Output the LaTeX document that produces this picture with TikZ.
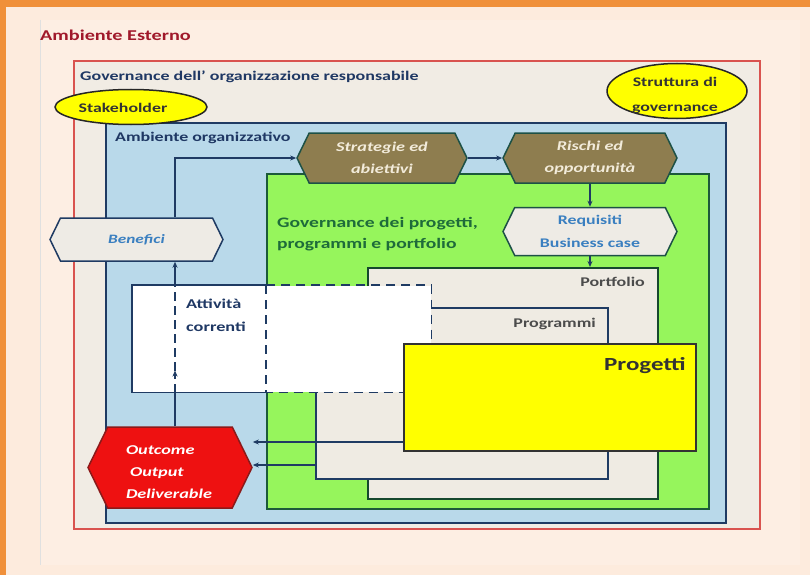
\documentclass[tikz,border=0pt]{standalone}
\usepackage{fontspec}
\setmainfont[FakeStretch=1.35]{Carlito}
\usetikzlibrary{shapes.symbols,shapes.geometric,arrows.meta,calc}
\definecolor{bgpeach}{HTML}{FDEBDD}
\definecolor{pagecol}{HTML}{FDEEE3}
\definecolor{orangeband}{HTML}{F0903A}
\definecolor{redline}{HTML}{D9534F}
\definecolor{govfill}{HTML}{F1ECE4}
\definecolor{bluefill}{HTML}{B9D9EA}
\definecolor{darkblue}{HTML}{1F3B63}
\definecolor{olive}{HTML}{8E7D4F}
\definecolor{olivetext}{HTML}{F2EBDA}
\definecolor{greenfill}{HTML}{96F55C}
\definecolor{darkgreen}{HTML}{1C5A3A}
\definecolor{hexlight}{HTML}{EEEBE5}
\definecolor{hextext}{HTML}{3A7FC0}
\definecolor{portfill}{HTML}{EFEBE3}
\definecolor{yellowfill}{HTML}{FFFF00}
\definecolor{redhex}{HTML}{EE1111}
\definecolor{darkred}{HTML}{8B1A1A}
\definecolor{titlered}{HTML}{A0182A}
\definecolor{greentext}{HTML}{1E6B3A}
\definecolor{textblue}{HTML}{1F3864}
\begin{document}
\begin{tikzpicture}[x=1pt,y=-1pt,
  box/.style={rectangle, anchor=north west, inner sep=0pt, line width=1.5pt},
  hexa/.style={signal, signal to=east and west, signal pointer angle=128,
     inner sep=0pt, line width=1.5pt, align=center, font=\bfseries\itshape\fontsize{13.5}{22}\selectfont},
  lbl/.style={inner sep=0pt, font=\bfseries\fontsize{13.3}{22}\selectfont, text=textblue, align=left},
  ell/.style={ellipse, draw=black!85, line width=1.5pt, fill=yellowfill, inner sep=0pt},
  ellt/.style={inner sep=0pt, align=center, font=\bfseries\fontsize{13.2}{25}\selectfont, text=black!80},
  conn/.style={draw=darkblue, line width=1.5pt},
  arr/.style={conn, -{Stealth[length=6pt,width=5pt]}}]
\useasboundingbox (0,0) rectangle (810,575);
\fill[bgpeach] (0,0) rectangle (810,575);
\fill[pagecol] (40,20) rectangle (800,565);
\draw[black!12, line width=1pt] (40,20) -- (40,565);
\fill[orangeband] (0,0) rectangle (810,7);
\fill[orangeband] (0,0) rectangle (6,575);

\node[lbl, anchor=west, text=titlered, font=\bfseries\fontsize{15}{18}\selectfont] (amb) at (40,35) {Ambiente Esterno};

% governance box
\node[box, draw=redline, line width=2pt, fill=govfill, minimum width=686pt, minimum height=468pt] (gov) at (73,60) {};
\node[lbl, anchor=west] (govl) at (80,77) {Governance dell' organizzazione responsabile};

% ambiente organizzativo
\node[box, draw=darkblue, fill=bluefill, minimum width=620pt, minimum height=400pt] (org) at (105,122) {};
\node[lbl, anchor=west] (orgl) at (115,138) {Ambiente organizzativo};

% green governance progetti
\node[box, draw=darkgreen, fill=greenfill, minimum width=442pt, minimum height=335pt] (grn) at (266,173) {};
\node[lbl, anchor=west, text=greentext, font=\bfseries\fontsize{14.5}{21}\selectfont] (grnl) at (277,234.5) {Governance dei progetti,\\programmi e portfolio};

% hexagons top
\node[hexa, draw=darkgreen!70!darkblue, fill=olive, text=olivetext, minimum width=170pt, minimum height=50pt] (str) at (382,158) {Strategie ed\\abiettivi};
\node[hexa, draw=darkgreen!70!darkblue, fill=olive, text=olivetext, minimum width=174pt, minimum height=50pt] (ris) at (590,158) {Rischi ed\\opportunità};
\node[hexa, draw=darkgreen!70!darkblue, fill=hexlight, text=hextext, font=\bfseries\fontsize{13.2}{23}\selectfont, minimum width=174pt, minimum height=48pt] (req) at (590,231.5) {Requisiti\\Business case};

% portfolio
\node[box, draw=darkgreen!80!black, fill=portfill, minimum width=290pt, minimum height=231pt] (port) at (367,267) {};
\node[lbl, anchor=east, text=black!70] (portl) at (645,282) {Portfolio};

% programmi
\node[box, draw=darkblue, fill=portfill, minimum width=292pt, minimum height=171pt] (pgm) at (315,307) {};
\node[lbl, anchor=east, text=black!70] (pgml) at (596,324) {Programmi};

% attivita correnti (white box)
\node[box, fill=white, minimum width=298pt, minimum height=106pt] (wb) at (132,285) {};
\draw[conn] (grn.west |- wb.north) -- (wb.north west) -- (wb.south west) -- (grn.west |- wb.south);
\draw[conn, dashed, dash pattern=on 9pt off 6pt] (grn.west |- wb.north) -- (wb.north east) -- (wb.east);
\draw[conn, dashed, dash pattern=on 9pt off 6pt] (grn.west |- wb.north) -- (grn.west |- wb.south) -- (wb.south east);
\node[lbl, anchor=west, font=\bfseries\fontsize{13.5}{23}\selectfont] (wbl) at (186,315) {Attività\\correnti};

% progetti
\node[box, draw=black!80, fill=yellowfill, minimum width=292pt, minimum height=107pt] (prog) at (403,343) {};
\node[lbl, anchor=east, text=black!80, font=\bfseries\fontsize{18.5}{20}\selectfont] (progl) at (686,366) {Progetti};

% benefici and outcome hexagons
\node[hexa, draw=darkblue, fill=hexlight, text=hextext, font=\bfseries\itshape\fontsize{12.8}{22}\selectfont, minimum width=173pt, minimum height=43pt] (ben) at (136.5,239.5) {Benefici};
\node[hexa, draw=darkred, fill=redhex, minimum width=164pt, minimum height=81pt] (out) at (170,467.5) {};
\node[inner sep=0pt, text=white, align=left, font=\bfseries\itshape\fontsize{13.5}{22}\selectfont] (outt) at (169,472.5) {Outcome\\\ Output\\Deliverable};

% ellipses
\node[ell, minimum width=152pt, minimum height=35pt] (stake) at (131,107) {};
\node[ellt] (staket) at (123,107.5) {Stakeholder};
\node[ell, minimum width=140pt, minimum height=55pt] (strut) at (677,91) {};
\node[ellt] (strutt) at (675,95) {Struttura di\\governance};

% connectors
\coordinate (vx) at (175,0);
\draw[conn] (vx |- out.north) -- (vx |- wb.south);
\draw[conn, dashed, dash pattern=on 9pt off 5pt, -{Stealth[length=6pt,width=5pt]}] (vx |- wb.south) -- ($(vx |- wb.south)+(0,-22)$);
\draw[conn, dashed, dash pattern=on 9pt off 5pt] ($(vx |- wb.south)+(0,-22)$) -- (vx |- wb.north);
\draw[arr] (vx |- wb.north) -- (vx |- ben.south);
\draw[arr] (vx |- ben.north) |- (str.west);
\draw[arr] (str.east) -- (ris.west);
\draw[arr] (ris.south) -- (req.north);
\draw[arr] (req.south) -- (port.north -| req.south);
\coordinate (a1) at (0,442);
\coordinate (a2) at (0,465);
\draw[arr] (prog.west |- a1) -- (out.east |- a1);
\draw[arr] (pgm.west |- a2) -- (out.east |- a2);
\end{tikzpicture}
\end{document}
